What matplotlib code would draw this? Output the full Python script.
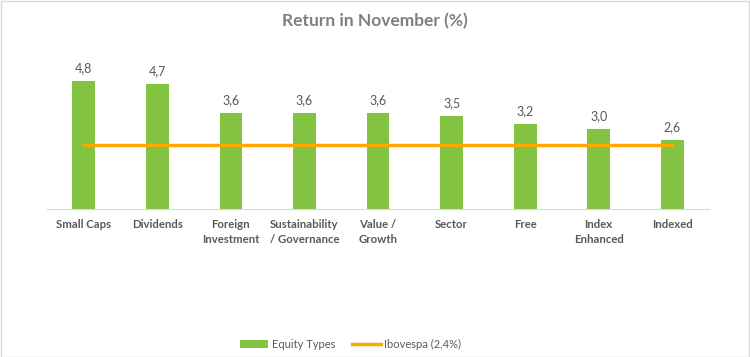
import matplotlib
matplotlib.use("Agg")
import matplotlib.pyplot as plt
from matplotlib.patches import Rectangle

plt.rcParams['font.family'] = ['Lato', 'DejaVu Sans']

# data
categories = ["Small Caps", "Dividends", "Foreign\nInvestment", "Sustainability\n/ Governance",
              "Value /\nGrowth", "Sector", "Free", "Index\nEnhanced", "Indexed"]
returns = [4.8, 4.7, 3.6, 3.6, 3.6, 3.5, 3.2, 3.0, 2.6]
ibovespa = 2.4

green = "#82C341"
orange = "#FFA800"
txt = "#595959"

fig = plt.figure(figsize=(7.5, 3.57), dpi=100)
ax = fig.add_axes([0.0627, 0.4146, 0.8827, 0.4481])

x = range(len(categories))
bars = ax.bar(x, returns, width=0.31, color=green, label="Equity Types", zorder=2)
line, = ax.plot(x, [ibovespa] * len(categories), color=orange, lw=2.5,
                label="Ibovespa (2,4%)", zorder=3)

for i, v in enumerate(returns):
    ax.text(i, v + 0.25, f"{v:.1f}".replace(".", ","), ha="center", va="bottom",
            fontsize=9, color=txt)

ax.set_xlim(-0.5, len(categories) - 0.5)
ax.set_ylim(0, 6)
ax.set_yticks([])
ax.set_xticks(list(x))
ax.set_xticklabels(categories, fontsize=8.2, color=txt, fontweight="bold", linespacing=1.5)
ax.tick_params(axis="x", length=0, pad=7)
for s in ["top", "right", "left"]:
    ax.spines[s].set_visible(False)
ax.spines["bottom"].set_color("#D9D9D9")

fig.text(0.5, 0.94, "Return in November (%)", ha="center", va="center",
         fontsize=12.5, fontweight="bold", color="#7F7F7F")

fig.legend([bars, line], ["Equity Types", "Ibovespa (2,4%)"], loc="center",
           bbox_to_anchor=(0.467, 0.035), ncol=2, frameon=False,
           fontsize=8, labelcolor=txt, handlelength=2.6, handleheight=0.7,
           columnspacing=1.5, handletextpad=0.3)

fig.patches.append(Rectangle((0.001, 0.001), 0.997, 0.996, transform=fig.transFigure,
                             fill=False, edgecolor="#D9D9D9", lw=1))

fig.savefig("out.png", dpi=100)
